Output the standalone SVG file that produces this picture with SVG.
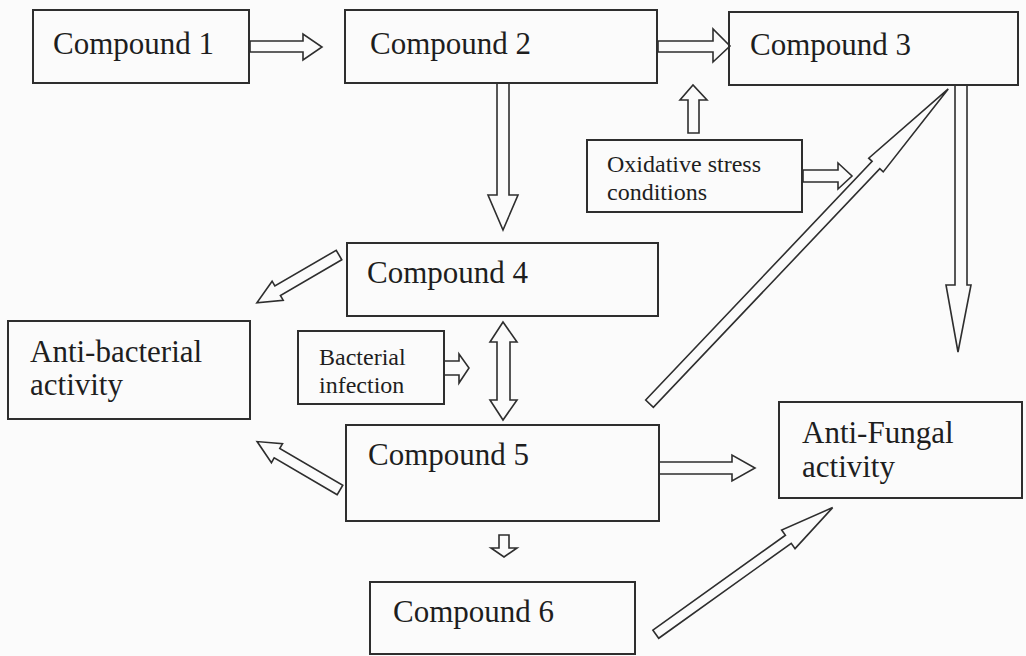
<svg xmlns="http://www.w3.org/2000/svg" width="1026" height="656" viewBox="0 0 1026 656">
<style>
.box{fill:none;stroke:#2e2e2e;stroke-width:2}
.arr{fill:#fbfbfb;stroke:#2e2e2e;stroke-width:1.6;stroke-linejoin:miter}
.t{font-family:"Liberation Serif","Times New Roman",serif;font-size:31px;fill:#1e1e1e}
.s{font-family:"Liberation Serif","Times New Roman",serif;font-size:24px;fill:#1e1e1e}
</style>
<rect x="0" y="0" width="1026" height="656" fill="#fbfbfb"/>
<g id="connectors">
<polygon class="arr" points="250,41 303,41 303,34 322,47 303,60 303,52 250,52"/>
<polygon class="arr" points="658,41 713,41 713,29 730,46 713,62 713,52 658,52"/>
<polygon class="arr" points="688,133 688,100 680,100 693,85 707,100 699,100 699,133"/>
<polygon class="arr" points="803,170 838,170 838,163 852,176 838,189 838,182 803,182"/>
<polygon class="arr" points="955,85 955,285 946,285 958,352 971,285 967,285 967,85"/>
<polygon class="arr" points="497,83 497,195 488,195 503,230 518,195 509,195 509,83"/>
<polygon class="arr" points="503,322 517,342 510,342 510,400 517,400 503,420 490,400 497,400 497,342 490,342"/>
<polygon class="arr" points="444,361 459,361 459,354 469,368 459,383 459,375 444,375"/>
<polygon class="arr" points="499,535 499,548 491,548 504,557 517,548 509,548 509,535"/>
<polygon class="arr" points="659,462 732,462 732,455 755,468 732,481 732,474 659,474"/>
<polygon class="arr" transform="translate(339,255) rotate(149.8)" points="0,-5.5 71,-5.5 71,-11 95,0 71,11 71,5.5 0,5.5"/>
<polygon class="arr" transform="translate(340,490) rotate(210.3)" points="0,-5.5 73,-5.5 73,-11 96,0 73,11 73,5.5 0,5.5"/>
<polygon class="arr" transform="translate(649.5,403.7) rotate(-46.5)" points="0,-5.3 329,-5.3 329,-10 434,0 329,10 329,5.3 0,5.3"/>
<polygon class="arr" transform="translate(655.8,634.2) rotate(-35.6)" points="0,-5 163,-5 163,-11.5 217.5,0 163,11.5 163,5 0,5"/>
</g>
<g id="compound1"><rect class="box" x="33" y="10" width="216" height="73"/><text class="t" x="53" y="54">Compound 1</text></g>
<g id="compound2"><rect class="box" x="345" y="10" width="312" height="73"/><text class="t" x="370" y="54">Compound 2</text></g>
<g id="compound3"><rect class="box" x="729" y="12" width="289" height="73"/><text class="t" x="750" y="55">Compound 3</text></g>
<g id="oxidative"><rect class="box" x="587" y="140" width="215" height="72"/><text class="s" x="607" y="172">Oxidative stress</text><text class="s" x="607" y="200">conditions</text></g>
<g id="compound4"><rect class="box" x="347" y="243" width="311" height="73"/><text class="t" x="367" y="283">Compound 4</text></g>
<g id="antibacterial"><rect class="box" x="8" y="321" width="242" height="98"/><text class="t" x="30" y="362">Anti-bacterial</text><text class="t" x="30" y="395">activity</text></g>
<g id="bacterial"><rect class="box" x="298" y="331" width="146" height="73"/><text class="s" x="319" y="365">Bacterial</text><text class="s" x="319" y="393">infection</text></g>
<g id="compound5"><rect class="box" x="346" y="425" width="313" height="96"/><text class="t" x="368" y="465">Compound 5</text></g>
<g id="antifungal"><rect class="box" x="779" y="402" width="243" height="96"/><text class="t" x="802" y="443">Anti-Fungal</text><text class="t" x="802" y="477">activity</text></g>
<g id="compound6"><rect class="box" x="370" y="582" width="265" height="72"/><text class="t" x="393" y="622">Compound 6</text></g>
</svg>
